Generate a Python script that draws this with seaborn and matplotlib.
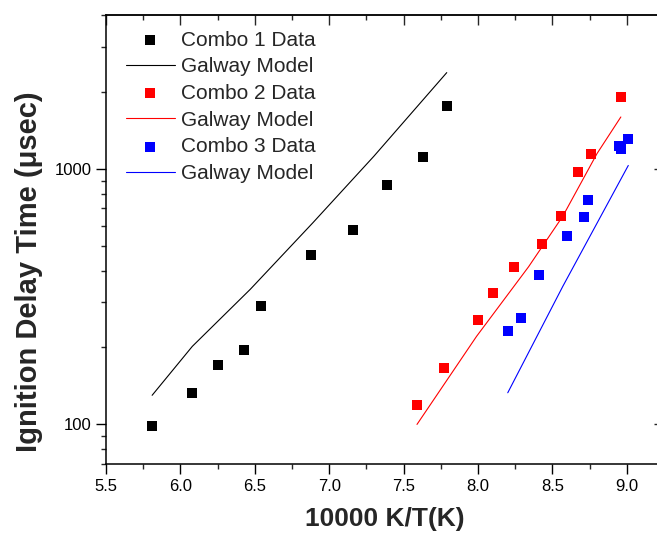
import matplotlib
matplotlib.use("Agg")
import matplotlib.pyplot as plt
from matplotlib.ticker import MultipleLocator, LogLocator, NullFormatter, FixedLocator, FixedFormatter
import seaborn as sns
import pandas as pd

# Measured ignition delay times and Galway model predictions
combo1_x = [5.81, 6.08, 6.25, 6.43, 6.54, 6.88, 7.16, 7.39, 7.63, 7.79]
combo1_y = [99, 133, 171, 196, 290, 462, 575, 868, 1114, 1766]
model1_x = [5.81, 6.08, 6.47, 6.89, 7.30, 7.79]
model1_y = [130, 202, 338, 615, 1120, 2380]

combo2_x = [7.59, 7.77, 8.00, 8.10, 8.24, 8.43, 8.56, 8.67, 8.76, 8.96]
combo2_y = [119, 166, 256, 327, 412, 506, 653, 975, 1148, 1910]
model2_x = [7.59, 7.99, 8.34, 8.57, 8.80, 8.96]
model2_y = [100, 221, 414, 653, 1148, 1596]

combo3_x = [8.20, 8.29, 8.41, 8.60, 8.71, 8.74, 8.95, 8.96, 9.01]
combo3_y = [231, 260, 384, 547, 646, 752, 1225, 1197, 1309]
model3_x = [8.20, 8.57, 9.01]
model3_y = [133, 347, 1031]

series = [
    ("Combo 1 Data", combo1_x, combo1_y, model1_x, model1_y, "#000000"),
    ("Combo 2 Data", combo2_x, combo2_y, model2_x, model2_y, "#ff0000"),
    ("Combo 3 Data", combo3_x, combo3_y, model3_x, model3_y, "#0000ff"),
]

x_ticks = [5.5, 6.0, 6.5, 7.0, 7.5, 8.0, 8.5, 9.0]
x_tick_labels = ["5.5", "6.0", "6.5", "7.0", "7.5", "8.0", "8.5", "9.0"]
y_ticks = [100, 1000]
y_tick_labels = ["100", "1000"]

sns.set_style("ticks")
plt.rcParams["font.family"] = ["Liberation Sans", "DejaVu Sans"]

fig = plt.figure(figsize=(6.57, 5.37), dpi=100)
ax = fig.add_axes([106 / 657, (537 - 464) / 537, (664 - 106) / 657, (464 - 15) / 537])

handles, labels = [], []
for name, dx, dy, mx, my, color in series:
    pts = pd.DataFrame({"x": dx, "y": dy})
    sns.scatterplot(data=pts, x="x", y="y", ax=ax, marker="s", s=52,
                    color=color, linewidth=0, label=name, legend=False)
    handles.append(ax.collections[-1])
    labels.append(name)
    mod = pd.DataFrame({"x": mx, "y": my})
    sns.lineplot(data=mod, x="x", y="y", ax=ax, color=color, linewidth=0.8,
                 sort=False, estimator=None, label="Galway Model", legend=False)
    handles.append(ax.lines[-1])
    labels.append("Galway Model")

ax.set_yscale("log")
ax.set_xlim(5.5, 9.25)
ax.set_ylim(70, 4000)

ax.xaxis.set_major_locator(FixedLocator(x_ticks))
ax.xaxis.set_major_formatter(FixedFormatter(x_tick_labels))
ax.xaxis.set_minor_locator(MultipleLocator(0.25))
ax.yaxis.set_major_locator(FixedLocator(y_ticks))
ax.yaxis.set_major_formatter(FixedFormatter(y_tick_labels))
ax.yaxis.set_minor_locator(LogLocator(base=10, subs=range(2, 10)))
ax.yaxis.set_minor_formatter(NullFormatter())

for s in ax.spines.values():
    s.set_linewidth(1.1)
    s.set_color("black")
    s.set_visible(True)

ax.tick_params(axis="both", which="major", direction="out", length=7, width=1.0,
               labelsize=12, colors="black", pad=3.5)
ax.tick_params(axis="both", which="minor", direction="out", length=3.6, width=1.0)
ax.tick_params(axis="x", which="major", pad=4)

# Inward ticks on the top and right frame edges
top = ax.secondary_xaxis("top")
top.xaxis.set_major_locator(FixedLocator(x_ticks))
top.xaxis.set_minor_locator(MultipleLocator(0.25))
top.tick_params(which="major", direction="in", length=7, width=1.0, labeltop=False)
top.tick_params(which="minor", direction="in", length=3.6, width=1.0)
top.spines["top"].set_linewidth(1.1)

right = ax.secondary_yaxis("right")
right.yaxis.set_major_locator(FixedLocator(y_ticks))
right.yaxis.set_minor_locator(LogLocator(base=10, subs=range(2, 10)))
right.yaxis.set_minor_formatter(NullFormatter())
right.tick_params(which="major", direction="in", length=7, width=1.0, labelright=False)
right.tick_params(which="minor", direction="in", length=3.6, width=1.0)
right.spines["right"].set_linewidth(1.1)

ax.set_xlabel("10000 K/T(K)", fontsize=19, fontweight="bold")
ax.set_ylabel("Ignition Delay Time (\u03bcsec)", fontsize=21, fontweight="bold")
ax.xaxis.set_label_coords(0.5, -(507 - 464) / 449)
ax.yaxis.set_label_coords((43 - 106) / 558, (464 - 271.5) / 449)

ax.legend(handles, labels, loc="upper left",
          bbox_to_anchor=((126 - 106) / 558, 1 - (30.5 - 15) / 449),
          frameon=False, fontsize=15, handlelength=2.35, handletextpad=0.3,
          labelspacing=0.37, borderpad=0, borderaxespad=0, markerscale=1.0)

fig.savefig("out.png", dpi=100)
